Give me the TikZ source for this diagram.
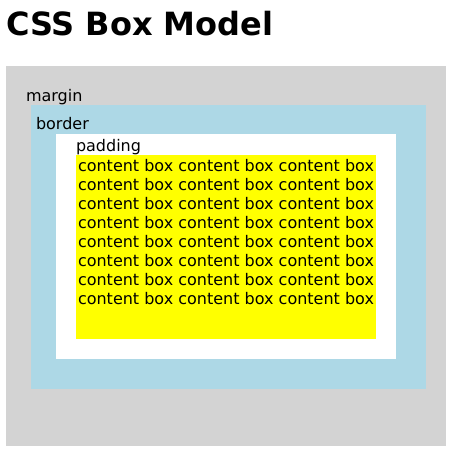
\documentclass[tikz,border=0pt]{standalone}
\usepackage{fontspec}
\setmainfont{DejaVu Sans}
\definecolor{cssgray}{HTML}{D3D3D3}
\definecolor{cssblue}{HTML}{ADD8E6}
\definecolor{cssyellow}{HTML}{FFFF00}
\begin{document}
\begin{tikzpicture}[x=1pt,y=-1pt,
  lbl/.style={anchor=base west,inner sep=0pt,outer sep=0pt,font=\fontsize{16}{19}\selectfont},
  ttl/.style={anchor=base west,inner sep=0pt,outer sep=0pt,font=\fontsize{32}{38}\selectfont\bfseries}]
\useasboundingbox (0,0) rectangle (456,458);
\fill[white] (0,0) rectangle (456,458);
\node[ttl] (title) at (6,35) {CSS Box Model};
\fill[cssgray] (6,66) rectangle (446,446);
\node[lbl] (margin) at (26,101) {margin};
\fill[cssblue] (31,105) rectangle (426,389);
\node[lbl] (border) at (36,129) {border};
\fill[white] (56,134) rectangle (396,359);
\node[lbl] (padding) at (76,151) {padding};
\fill[cssyellow] (76,155) rectangle (376,339);
\foreach \i in {0,...,7}{
  \node[lbl] (c\i) at (78,171+19*\i) {content box content box content box};
}
\end{tikzpicture}
\end{document}
